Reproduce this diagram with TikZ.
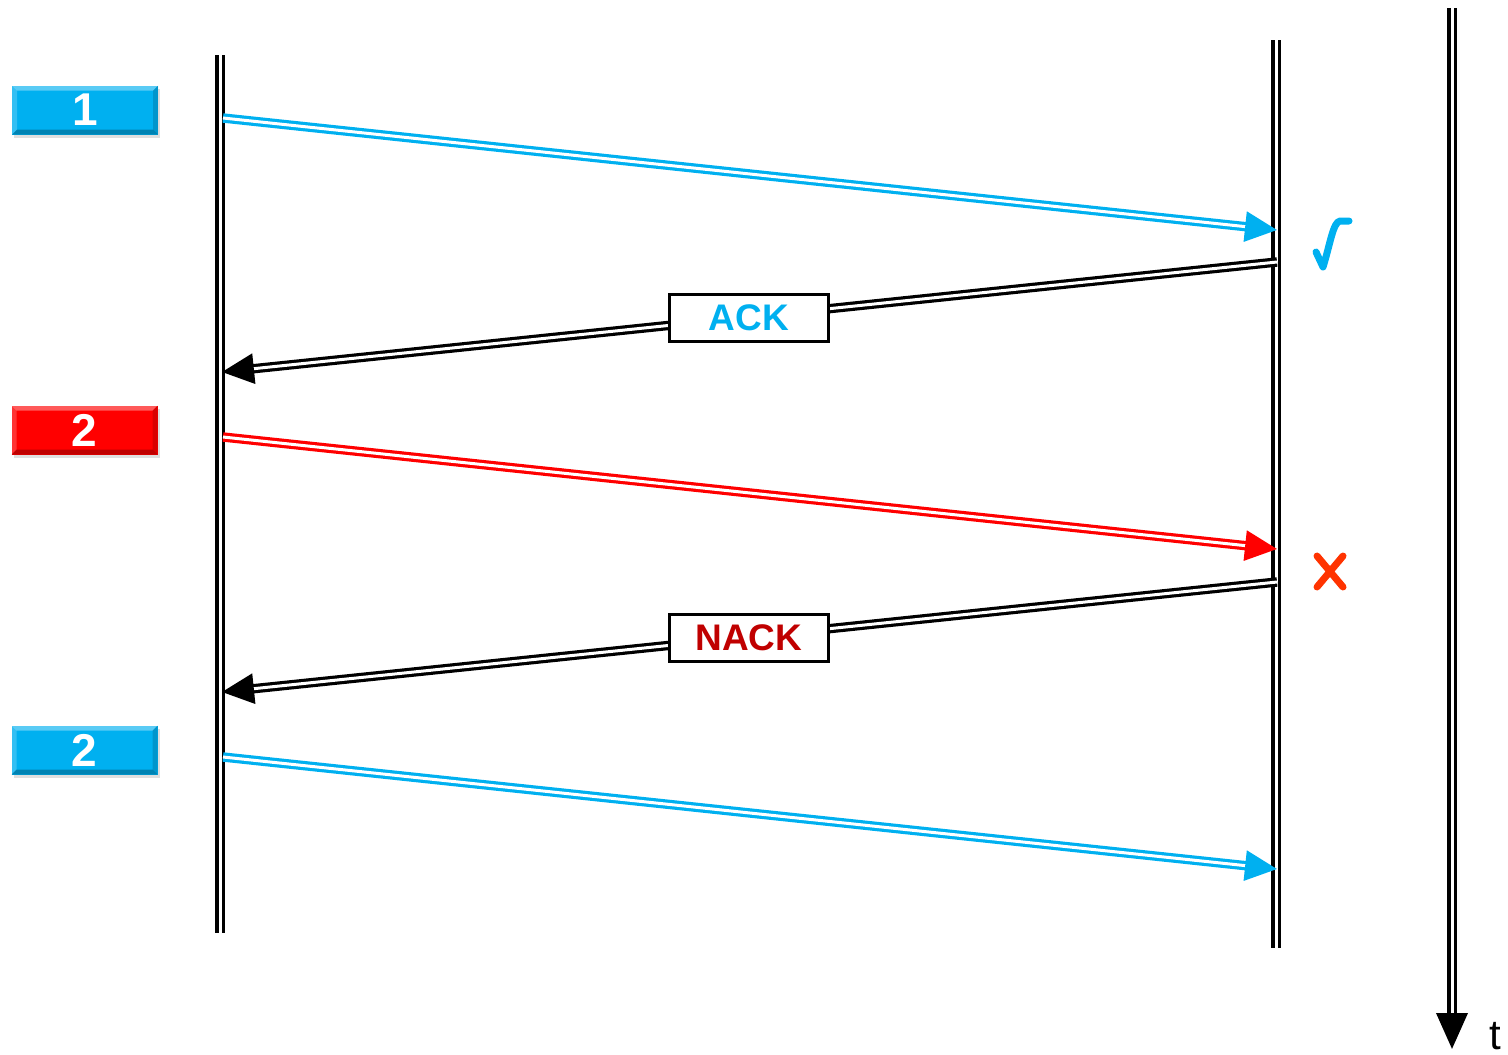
\documentclass[tikz,border=0pt]{standalone}
\usepackage{fontspec}
\setmainfont{Liberation Sans}
\usetikzlibrary{arrows.meta,calc,shadows}
\definecolor{pblue}{HTML}{00B0F0}
\definecolor{pred}{HTML}{FF0000}
\definecolor{nackred}{HTML}{C00000}
\definecolor{xred}{HTML}{FF3300}
\begin{document}
\begin{tikzpicture}[x=1pt,y=-1pt,
 lifeline/.style={draw=black, line width=3.6pt, double=white, double distance=3pt},
 msg/.style={line width=3.2pt, double=white, double distance=3pt, -{Triangle[length=32pt,width=30pt]}},
 bevel/.style={path picture={
   \fill[white,opacity=0.35] (path picture bounding box.north west) -- (path picture bounding box.north east) -- ([xshift=-5pt,yshift=-5pt]path picture bounding box.north east) -- ([xshift=5pt,yshift=-5pt]path picture bounding box.north west) -- cycle;
   \fill[white,opacity=0.2] (path picture bounding box.north west) -- ([xshift=5pt,yshift=-5pt]path picture bounding box.north west) -- ([xshift=5pt,yshift=5pt]path picture bounding box.south west) -- (path picture bounding box.south west) -- cycle;
   \fill[black,opacity=0.25] (path picture bounding box.south west) -- (path picture bounding box.south east) -- ([xshift=-5pt,yshift=5pt]path picture bounding box.south east) -- ([xshift=5pt,yshift=5pt]path picture bounding box.south west) -- cycle;
   \fill[black,opacity=0.15] (path picture bounding box.north east) -- ([xshift=-5pt,yshift=-5pt]path picture bounding box.north east) -- ([xshift=-5pt,yshift=5pt]path picture bounding box.south east) -- (path picture bounding box.south east) -- cycle;
 }},
 pkt/.style={bevel, minimum width=146pt, minimum height=49pt, inner sep=0pt, text=white,
   font=\fontsize{46}{46}\selectfont\bfseries,
   drop shadow={opacity=0.25, shadow xshift=2pt, shadow yshift=-3pt}},
 lbl/.style={draw=black, line width=3pt, fill=white, minimum width=159pt, minimum height=47pt, inner sep=0pt,
   font=\fontsize{37}{37}\selectfont\bfseries}
]
\useasboundingbox (0,0) rectangle (1508,1055);

% lifelines
\coordinate (Ltop) at (220,55);
\coordinate (Lbot) at (220,933);
\coordinate (Rtop) at (1276,40);
\coordinate (Rbot) at (1276,948);
\coordinate (Ttop) at (1452,8);
\coordinate (Tbot) at (1452,1049);
\draw[lifeline] (Ltop) -- (Lbot);
\draw[lifeline] (Rtop) -- (Rbot);
\draw[line width=3.8pt, double=white, double distance=3pt, -{Triangle[length=36pt,width=31pt]}] (Ttop) -- (Tbot);
\node[anchor=base, inner sep=0pt, outer sep=0pt, font=\fontsize{42}{42}\selectfont] (t) at (1495,1049) {t};

% message endpoints
\coordinate (m1s) at (223,118);
\coordinate (m1e) at (1277,230);
\coordinate (a1s) at (1277,262);
\coordinate (a1e) at (222,372);
\coordinate (m2s) at (223,437);
\coordinate (m2e) at (1277,549);
\coordinate (a2s) at (1277,582);
\coordinate (a2e) at (222,692);
\coordinate (m3s) at (223,757);
\coordinate (m3e) at (1277,869);

\draw[msg, draw=pblue] (m1s) -- (m1e);
\draw[msg, draw=black] (a1s) -- (a1e);
\draw[msg, draw=pred] (m2s) -- (m2e);
\draw[msg, draw=black] (a2s) -- (a2e);
\draw[msg, draw=pblue] (m3s) -- (m3e);

% labels on feedback messages
\node[lbl, text=pblue] (ack) at (749,318) {ACK};
\node[lbl, text=nackred] (nack) at (749,638) {NACK};

% packets
\node[pkt, fill=pblue] (p1) at (85,110) {1};
\node[pkt, fill=pred] (p2) at (84.5,430) {2};
\node[pkt, fill=pblue] (p3) at (84.5,750) {2};

% check mark
\draw[pblue, line width=7pt, line cap=round, line join=round]
  (1316,252) -- (1323,267) .. controls (1330,245) and (1333,222) .. (1340,221) -- (1349,221);
% cross
\draw[xred, line width=7pt, line cap=round] (1317,556) -- (1343,587);
\draw[xred, line width=7pt, line cap=round] (1343,556) -- (1317,587);
\end{tikzpicture}
\end{document}
